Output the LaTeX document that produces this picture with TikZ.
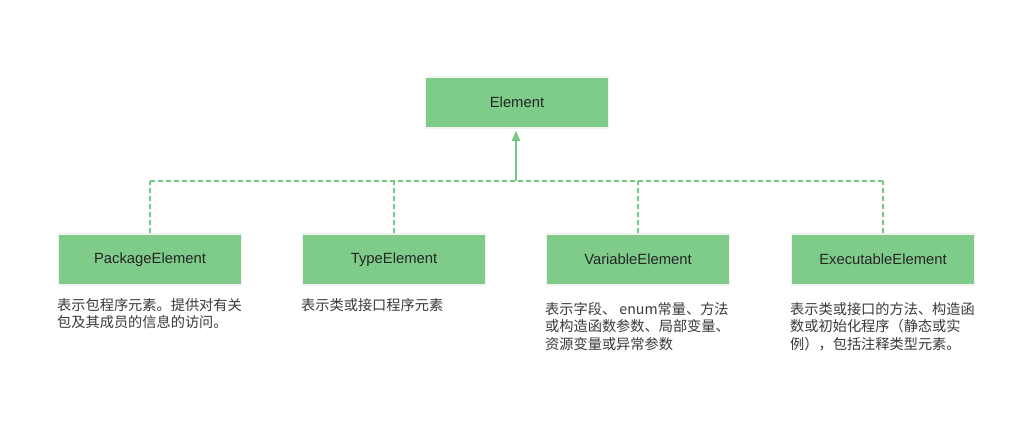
\documentclass[tikz,border=0pt]{standalone}
\usepackage{fontspec}
\setmainfont{Liberation Sans}
\newfontfamily\cjk{Noto Sans CJK SC}
\usetikzlibrary{arrows.meta}
\definecolor{boxgreen}{HTML}{7ECB8A}
\definecolor{linegreen}{HTML}{74C884}
\definecolor{txt}{HTML}{262626}
\definecolor{desctxt}{HTML}{3A3A3A}
\definecolor{edge}{HTML}{F2F2F2}
\begin{document}
\begin{tikzpicture}[x=1pt,y=-1pt,
  elbox/.style={fill=boxgreen,draw=edge,line width=1.5pt,minimum width=183pt,minimum height=51pt,inner sep=0pt,text=txt,font=\fontsize{14.8}{17}\selectfont},
  desc/.style={anchor=north west,inner sep=0pt,align=left,text=desctxt,font=\cjk\fontsize{14.2}{17.6}\selectfont},
  bus/.style={draw=linegreen,line width=1.2pt,dash pattern=on 5pt off 3pt},
  inherit/.style={draw=linegreen,line width=1.2pt,-{Triangle[length=10pt,width=8pt]}}]
\useasboundingbox (0,0) rectangle (1012,426);
\fill[white] (0,0) rectangle (1012,426);
\node[elbox] (elem) at (517,102.5) {Element};
\node[elbox] (pkg) at (150,259.5) {PackageElement};
\node[elbox] (type) at (394,259.5) {TypeElement};
\node[elbox] (var) at (638,259.5) {VariableElement};
\node[elbox] (exe) at (883,259.5) {ExecutableElement};
\coordinate (hub) at (516,181);
\draw[bus] (pkg.north |- hub) -- (exe.north |- hub);
\draw[bus] (pkg.north) -- (pkg.north |- hub);
\draw[bus] (type.north) -- (type.north |- hub);
\draw[bus] (var.north) -- (var.north |- hub);
\draw[bus] (exe.north) -- (exe.north |- hub);
\draw[inherit,shorten >=2pt] (hub) -- (hub |- elem.south);
\node[desc] (d1) at (57,298) {表示包程序元素。提供对有关\\包及其成员的信息的访问。};
\node[desc] (d2) at (301,298) {表示类或接口程序元素};
\node[desc] (d3) at (545,302) {表示字段、 enum常量、方法\\或构造函数参数、局部变量、\\资源变量或异常参数};
\node[desc] (d4) at (790,302) {表示类或接口的方法、构造函\\数或初始化程序（静态或实\\例），包括注释类型元素。};
\end{tikzpicture}
\end{document}
